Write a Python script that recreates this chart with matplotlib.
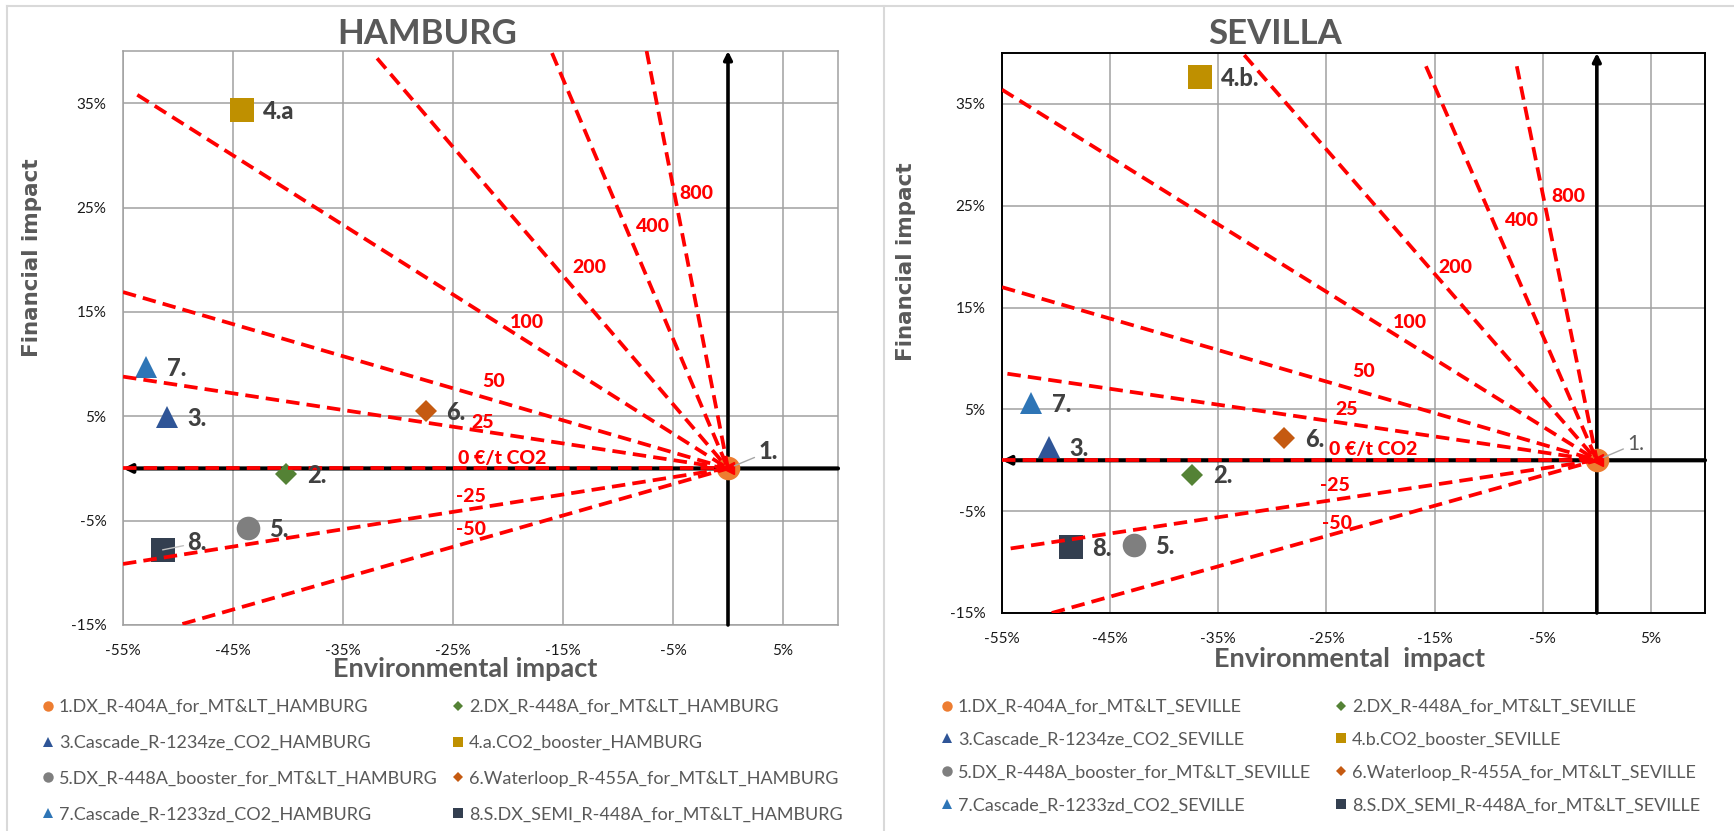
import matplotlib
matplotlib.use("Agg")
import matplotlib.pyplot as plt
from matplotlib.lines import Line2D

W, H = 1734, 831

# ---------------- data ----------------
point_colors = ['#ED7D31', '#548235', '#2F5597', '#BF9000', '#7F7F7F', '#C55A11', '#2E75B6', '#333F50']
point_markers = ['o', 'D', '^', 's', 'o', 'D', '^', 's']

ham_ids = ['1.', '2.', '3.', '4.a', '5.', '6.', '7.', '8.']
ham_env = [0.0, -40.2, -51.0, -44.2, -43.6, -27.5, -52.9, -51.4]
ham_fin = [0.0, -0.5, 4.9, 34.3, -5.7, 5.5, 9.7, -7.8]

sev_ids = ['1.', '2.', '3.', '4.b.', '5.', '6.', '7.', '8.']
sev_env = [0.0, -37.4, -50.7, -36.7, -42.8, -28.9, -52.3, -48.6]
sev_fin = [0.0, -1.4, 1.3, 37.6, -8.3, 2.2, 5.6, -8.5]

ham_legend = ['1.DX_R-404A_for_MT&LT_HAMBURG', '2.DX_R-448A_for_MT&LT_HAMBURG',
              '3.Cascade_R-1234ze_CO2_HAMBURG', '4.a.CO2_booster_HAMBURG',
              '5.DX_R-448A_booster_for_MT&LT_HAMBURG', '6.Waterloop_R-455A_for_MT&LT_HAMBURG',
              '7.Cascade_R-1233zd_CO2_HAMBURG', '8.S.DX_SEMI_R-448A_for_MT&LT_HAMBURG']
sev_legend = ['1.DX_R-404A_for_MT&LT_SEVILLE', '2.DX_R-448A_for_MT&LT_SEVILLE',
              '3.Cascade_R-1234ze_CO2_SEVILLE', '4.b.CO2_booster_SEVILLE',
              '5.DX_R-448A_booster_for_MT&LT_SEVILLE', '6.Waterloop_R-455A_for_MT&LT_SEVILLE',
              '7.Cascade_R-1233zd_CO2_SEVILLE', '8.S.DX_SEMI_R-448A_for_MT&LT_SEVILLE']

price_labels = ['800', '400', '200', '100', '50', '25', '0 €/t CO2', '-25', '-50']
ham_line_x = [-7.4, -16.0, -31.9, -53.7, -55.0, -55.0, -55.0, -55.0, -49.6]
ham_line_y = [40.0, 39.8, 39.3, 35.8, 16.9, 8.8, 0.0, -9.15, -14.9]
ham_lab_x = [-2.9, -6.8, -12.6, -18.3, -21.3, -22.3, -20.5, -23.4, -23.4]
ham_lab_y = [26.3, 23.2, 19.3, 14.0, 8.3, 4.4, 1.0, -2.65, -5.85]

sev_line_x = [-7.4, -15.8, -32.6, -55.0, -55.0, -54.5, -55.0, -54.2, -50.4]
sev_line_y = [38.7, 38.7, 39.8, 36.4, 17.0, 8.5, 0.0, -8.66, -15.0]
sev_lab_x = [-2.6, -6.9, -13.1, -17.3, -21.6, -23.1, -20.7, -24.2, -24.0]
sev_lab_y = [25.9, 23.5, 18.9, 13.5, 8.7, 5.0, 1.1, -2.46, -6.2]

x_ticks = [-55, -45, -35, -25, -15, -5, 5]
x_tick_labels = ['-55%', '-45%', '-35%', '-25%', '-15%', '-5%', '5%']
y_ticks = [-15, -5, 5, 15, 25, 35]
y_tick_labels = ['-15%', '-5%', '5%', '15%', '25%', '35%']

# ---------------- style ----------------
CAL = ['Lato', 'DejaVu Sans']
plt.rcParams['font.family'] = CAL
GREY_TXT = '#595959'
LBL_TXT = '#404040'

fig = plt.figure(figsize=(W / 100, H / 100), dpi=100)

# outer chart borders
for (x0, y0, x1, y1) in [(7, 6, W, 6), (7, 6, 7, H), (884, 6, 884, H)]:
    fig.add_artist(Line2D([x0 / W, x1 / W], [1 - y0 / H, 1 - y1 / H],
                          transform=fig.transFigure, color='#D9D9D9', lw=1.5))

msz = {'o': 17.0, 's': 17.0, 'D': 11.7, '^': 16.5}


def draw(rect, ids, ex, fy, lx, ly, labx, laby, spine_col, spine_lw, one_bold, leader8):
    ax = fig.add_axes(rect)
    ax.set_xlim(-55, 10)
    ax.set_ylim(-15, 40)
    ax.set_xticks(x_ticks)
    ax.set_xticklabels(x_tick_labels)
    ax.set_yticks(y_ticks)
    ax.set_yticklabels(y_tick_labels)
    ax.tick_params(length=0, labelsize=11, colors='#1a1a1a', pad=12)
    ax.tick_params(axis='x', pad=14)
    ax.grid(True, color='#A0A0A0', lw=1.1)
    ax.set_axisbelow(True)
    for s in ax.spines.values():
        s.set_color(spine_col)
        s.set_linewidth(spine_lw)

    # black axis arrows
    ax.annotate('', xy=(-55, 0), xytext=(10, 0),
                arrowprops=dict(arrowstyle='-|>', color='black', lw=3.0,
                                mutation_scale=12, shrinkA=0, shrinkB=0), zorder=3)
    ax.annotate('', xy=(0, 40), xytext=(0, -15),
                arrowprops=dict(arrowstyle='-|>', color='black', lw=2.6,
                                mutation_scale=12, shrinkA=0, shrinkB=0), zorder=3)

    # points
    for i in range(len(ids)):
        m = point_markers[i]
        ax.plot([ex[i]], [fy[i]], marker=m, color=point_colors[i], markersize=msz[m],
                linestyle='none', zorder=4, markeredgewidth=0)

    # price iso-lines
    for i, lab in enumerate(price_labels):
        ax.plot([lx[i], 0], [ly[i], 0], color='#FF0000', lw=2.7,
                linestyle=(0, (3.6, 1.9)), dash_capstyle='butt', zorder=5)
        ax.text(labx[i], laby[i], lab, color='#FF0000', fontsize=14, fontweight='black',
                ha='center', va='center', zorder=6)
    ax.plot([0], [0], marker='<', color='#FF0000', markersize=9, linestyle='none', zorder=6)

    # point labels
    for i in range(1, len(ids)):
        if i == 7 and leader8:
            ax.annotate(ids[i], xy=(ex[i], fy[i]), xytext=(18, 5), textcoords='offset points',
                        fontsize=17, fontweight='black', color=LBL_TXT, va='center', ha='left',
                        arrowprops=dict(arrowstyle='-', color='#BFBFBF', lw=1,
                                        shrinkA=1, shrinkB=0), zorder=7)
        else:
            ax.annotate(ids[i], xy=(ex[i], fy[i]), xytext=(15, -1), textcoords='offset points',
                        fontsize=17, fontweight='black', color=LBL_TXT, va='center', ha='left',
                        zorder=7)
    ax.annotate(ids[0], xy=(0, 0), xytext=(22, 12), textcoords='offset points',
                fontsize=17 if one_bold else 15, fontweight='black' if one_bold else 'normal',
                color=LBL_TXT if one_bold else GREY_TXT, va='center', ha='left',
                arrowprops=dict(arrowstyle='-', color='#A6A6A6', lw=1, shrinkA=1, shrinkB=5),
                zorder=7)
    return ax


ax1 = draw([123 / W, 1 - 625 / H, 715 / W, 574 / H], ham_ids, ham_env, ham_fin,
           ham_line_x, ham_line_y, ham_lab_x, ham_lab_y, '#A0A0A0', 1.1, True, True)
ax2 = draw([1002 / W, 1 - 613 / H, 703 / W, 560 / H], sev_ids, sev_env, sev_fin,
           sev_line_x, sev_line_y, sev_lab_x, sev_lab_y, 'black', 1.4, False, False)

# titles and axis titles
fig.text(427 / W, 1 - 34 / H, 'HAMBURG', fontsize=25, fontweight='bold', color=GREY_TXT,
         ha='center', va='center')
fig.text(1275 / W, 1 - 34 / H, 'SEVILLA', fontsize=25, fontweight='bold', color=GREY_TXT,
         ha='center', va='center')
fig.text(465 / W, 1 - 669 / H, 'Environmental impact', fontsize=19.5, fontweight='bold',
         color=GREY_TXT, ha='center', va='center')
fig.text(1350 / W, 1 - 659 / H, 'Environmental  impact', fontsize=19.5, fontweight='bold',
         color=GREY_TXT, ha='center', va='center')
fig.text(32 / W, 1 - 258 / H, 'Financial impact', fontsize=15.5, fontweight='bold',
         color=GREY_TXT, ha='center', va='center', rotation=90, family='DejaVu Sans')
fig.text(906 / W, 1 - 262 / H, 'Financial impact', fontsize=15.5, fontweight='bold',
         color=GREY_TXT, ha='center', va='center', rotation=90, family='DejaVu Sans')


# legends (two columns each, row-major order)
def legend_col(names, idx, x_marker, y_top, spacing):
    handles = []
    lm = {'o': 7.5, 's': 7.0, 'D': 5.0, '^': 6.5}
    for i in idx:
        m = point_markers[i]
        handles.append(Line2D([], [], marker=m, color=point_colors[i], linestyle='none',
                              markersize=lm[m], markeredgewidth=0))
    fs = 13
    fpx = fs * 100 / 72
    hl = 0.8
    leg = fig.legend(handles, [names[i] for i in idx], loc='upper left',
                     bbox_to_anchor=((x_marker - hl * fpx / 2) / W, 1 - y_top / H),
                     frameon=False, fontsize=fs, handlelength=hl, handletextpad=0.2,
                     borderpad=0, borderaxespad=0, labelspacing=spacing, labelcolor=GREY_TXT)
    return leg


legend_col(ham_legend, [0, 2, 4, 6], 48, 699, 1.1)
legend_col(ham_legend, [1, 3, 5, 7], 458, 699, 1.1)
legend_col(sev_legend, [0, 2, 4, 6], 947, 699, 0.93)
legend_col(sev_legend, [1, 3, 5, 7], 1341, 699, 0.93)

fig.savefig('out.png', dpi=100)
